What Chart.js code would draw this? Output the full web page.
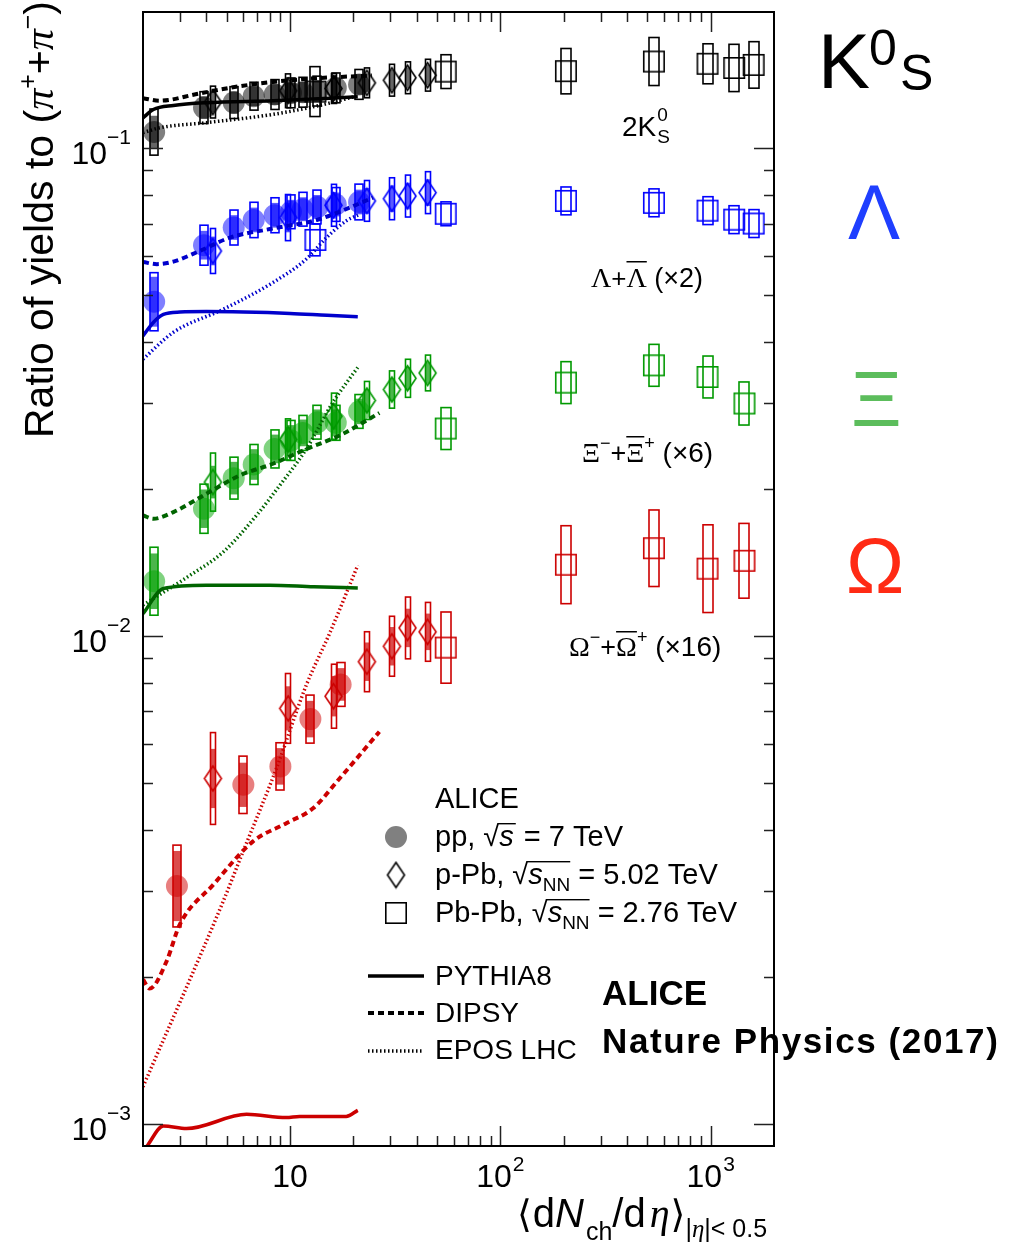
<!DOCTYPE html>
<html>
<head>
<meta charset="utf-8">
<script src="https://cdn.jsdelivr.net/npm/chart.js@4.4.1/dist/chart.umd.min.js"></script>
<style>
  html, body { margin: 0; padding: 0; background: #fff; }
  #wrap { width: 1024px; height: 1244px; position: relative; }
</style>
</head>
<body>
<div id="wrap"><canvas id="c" width="1024" height="1244"></canvas></div>
<script>
// === 1. DATA ===
// <dNch/deta> of the multiplicity / centrality classes
const xPP      = [2.26, 3.90, 5.40, 6.72, 8.45, 10.1, 11.5, 13.5, 16.5, 21.3];
const xPPOmega = [2.9, 6.0, 9.0, 12.5, 17.4];
const xPPb     = [4.3, 9.8, 16.1, 23.2, 30.5, 36.2, 45.1];
const xPbPb    = [13.2, 55, 205, 537, 966, 1294, 1601];
const xPbPbMS  = [55, 205, 537, 966, 1448];

// 2K0S / (pi+ + pi-)
const k0ppY     = [0.1078, 0.1210, 0.1239, 0.1277, 0.1287, 0.1297, 0.1301, 0.1308, 0.1328, 0.1350];
const k0ppSys   = [0.115, 0.078, 0.078, 0.068, 0.073, 0.073, 0.073, 0.073, 0.073, 0.073];
const k0ppUnc   = [0.080, 0.055, 0.055, 0.048, 0.050, 0.050, 0.050, 0.050, 0.050, 0.050];
const k0pPbY    = [0.1242, 0.1310, 0.1324, 0.1360, 0.1377, 0.1393, 0.1410];
const k0pPbSys  = [0.078, 0.083, 0.073, 0.073, 0.078, 0.078, 0.078];
const k0pPbUnc  = [0.050, 0.052, 0.046, 0.046, 0.050, 0.050, 0.050];
const k0PbPbY   = [0.1305, 0.1434, 0.1437, 0.1504, 0.1488, 0.1459, 0.1480];
const k0PbPbSys = [0.125, 0.083, 0.113, 0.120, 0.099, 0.118, 0.116];

// (Lambda + antiLambda) x2
const lamppY     = [0.0484, 0.0632, 0.0687, 0.0712, 0.0728, 0.0740, 0.0749, 0.0757, 0.0766, 0.0775];
const lamppSys   = [0.147, 0.099, 0.086, 0.087, 0.086, 0.083, 0.083, 0.083, 0.083, 0.088];
const lamppUnc   = [0.125, 0.070, 0.060, 0.060, 0.060, 0.058, 0.058, 0.058, 0.058, 0.060];
const lampPbY    = [0.0615, 0.0720, 0.0763, 0.0779, 0.0787, 0.0797, 0.0810];
const lampPbSys  = [0.112, 0.115, 0.104, 0.101, 0.104, 0.104, 0.104];
const lampPbUnc  = [0.070, 0.072, 0.065, 0.063, 0.065, 0.065, 0.065];
const lamPbPbY   = [0.0648, 0.0733, 0.0779, 0.0772, 0.0744, 0.0713, 0.0700];
const lamPbPbSys = [0.078, 0.058, 0.068, 0.068, 0.068, 0.068, 0.068];

// (Xi- + Xi+) x6
const xippY     = [0.01294, 0.01822, 0.02105, 0.02245, 0.02416, 0.02515, 0.02606, 0.02741, 0.02733, 0.02884];
const xippSys   = [0.174, 0.123, 0.104, 0.099, 0.094, 0.099, 0.086, 0.083, 0.086, 0.083];
const xippUnc   = [0.140, 0.095, 0.080, 0.075, 0.070, 0.075, 0.065, 0.062, 0.065, 0.062];
const xipPbY    = [0.02066, 0.02527, 0.02820, 0.03037, 0.03198, 0.03372, 0.03458];
const xipPbSys  = [0.147, 0.102, 0.115, 0.094, 0.092, 0.094, 0.088];
const xipPbUnc  = [0.080, 0.060, 0.065, 0.055, 0.055, 0.055, 0.052];
const xiPbPbY   = [0.02660, 0.03304, 0.03585, 0.03393, 0.02994];
const xiPbPbSys = [0.104, 0.104, 0.104, 0.104, 0.107];

// (Omega- + Omega+) x16
const omppY     = [0.00307, 0.00495, 0.00540, 0.00675, 0.00795];
const omppSys   = [0.213, 0.145, 0.118, 0.120, 0.109];
const omppUnc   = [0.180, 0.110, 0.090, 0.090, 0.080];
const ompPbY    = [0.00510, 0.00710, 0.00752, 0.00885, 0.00952, 0.01038, 0.01019];
const ompPbSys  = [0.242, 0.179, 0.163, 0.152, 0.152, 0.157, 0.149];
const ompPbUnc  = [0.150, 0.110, 0.100, 0.095, 0.095, 0.095, 0.090];
const omPbPbY   = [0.00946, 0.01399, 0.01512, 0.01373, 0.01425];
const omPbPbSys = [0.183, 0.202, 0.198, 0.230, 0.193];

// model curves: PYTHIA8, DIPSY, EPOS LHC
const pyK0X = [2.0, 2.24, 2.79, 4.0, 8.3, 21.0];
const pyK0Y = [0.1153, 0.1199, 0.1222, 0.1238, 0.1250, 0.1273];
const diK0X = [2.0, 2.4, 3.6, 5.2, 8.3, 13.4, 24.5];
const diK0Y = [0.1265, 0.1250, 0.1290, 0.1329, 0.1366, 0.1390, 0.1408];
const epK0X = [2.0, 2.4, 4.0, 8.3, 13.4, 20.7];
const epK0Y = [0.1075, 0.1100, 0.1127, 0.1172, 0.1219, 0.1277];

const pyLamX = [2.0, 2.25, 2.5, 3.0, 4.0, 6.0, 10, 15, 21];
const pyLamY = [0.0412, 0.0440, 0.0456, 0.0461, 0.0462, 0.0461, 0.0458, 0.0454, 0.0451];
const diLamX = [2.0, 2.33, 2.79, 3.72, 5.18, 8.3, 13.4, 17.2, 24.8];
const diLamY = [0.0584, 0.0578, 0.0585, 0.0615, 0.0655, 0.0684, 0.0712, 0.0740, 0.0791];
const epLamX = [2.0, 2.79, 4.81, 8.3, 11.96, 14.9, 18.5, 21.4];
const epLamY = [0.0369, 0.0419, 0.0467, 0.0530, 0.0592, 0.0655, 0.0709, 0.0731];

const pyXiX = [2.0, 2.5, 4.0, 8.0, 13, 21];
const pyXiY = [0.0111, 0.0125, 0.0127, 0.0127, 0.0126, 0.01254];
const diXiX = [2.0, 2.24, 2.79, 4.0, 5.77, 8.3, 12.0, 17.2, 26.6];
const diXiY = [0.01766, 0.01738, 0.01793, 0.01955, 0.02132, 0.02253, 0.02416, 0.02574, 0.02863];
const epXiX = [2.0, 3.34, 4.81, 6.93, 8.93, 11.96, 16.0, 21.0];
const epXiY = [0.01156, 0.0133, 0.01485, 0.01766, 0.02033, 0.02416, 0.03012, 0.0355];

const pyOmX = [2.08, 2.5, 3.22, 6.22, 9.6, 11.1, 18.5, 21.0];
const pyOmY = [0.000897, 0.000989, 0.000977, 0.001045, 0.001029, 0.001035, 0.001035, 0.001065];
const diOmX = [2.0, 2.15, 2.59, 2.99, 4.32, 6.67, 9.61, 12.86, 17.2, 26.6];
const diOmY = [0.001975, 0.001892, 0.002153, 0.002559, 0.00309, 0.00379, 0.00413, 0.00443, 0.0051, 0.00636];
const epOmX = [2.0, 4.81, 5.9, 8.62, 11.96, 15.4, 21.0];
const epOmY = [0.00119, 0.002855, 0.00356, 0.00535, 0.00793, 0.0101, 0.01395];

// axis ranges
const X_MIN = 2, X_MAX = 2000;
const Y_MIN = 0.0009, Y_MAX = 0.19;

// === 2. STYLE HELPERS ===
const SANS = '"Liberation Sans", Arial, Helvetica, sans-serif';
const SERIF = '"Liberation Serif", "Times New Roman", serif';
const font = (size, fam = SANS, style = '') => `${style} ${size}px ${fam}`.trim();

const pts = (xs, ys) => xs.map((x, i) => ({ x: x, y: ys[i] }));

// open marker shapes as canvases (used as Chart.js pointStyle)
const makeDiamond = (color) => {
    const c = document.createElement('canvas');
    c.width = 21; c.height = 29;
    const g = c.getContext('2d');
    g.strokeStyle = color; g.lineWidth = 1.6;
    g.beginPath();
    g.moveTo(10.5, 2); g.lineTo(19, 14.5); g.lineTo(10.5, 27); g.lineTo(2, 14.5);
    g.closePath(); g.stroke();
    return c;
};
const makeSquare = (color) => {
    const c = document.createElement('canvas');
    c.width = 24; c.height = 24;
    const g = c.getContext('2d');
    g.strokeStyle = color; g.lineWidth = 1.6;
    g.strokeRect(1.8, 1.8, 20.4, 20.4);
    return c;
};

const species = [
    { line: '#000000', dot: 'rgba(0,0,0,0.5)', box: '#000000', unc: 'rgba(0,0,0,0.6)',
      pp: [xPP, k0ppY, k0ppSys, k0ppUnc], pPb: [xPPb, k0pPbY, k0pPbSys, k0pPbUnc], PbPb: [xPbPb, k0PbPbY, k0PbPbSys],
      models: [[pyK0X, pyK0Y], [diK0X, diK0Y], [epK0X, epK0Y]] },
    { line: '#0000cc', dot: 'rgba(0,0,255,0.5)', box: '#0000ff', unc: 'rgba(0,0,255,0.65)',
      pp: [xPP, lamppY, lamppSys, lamppUnc], pPb: [xPPb, lampPbY, lampPbSys, lampPbUnc], PbPb: [xPbPb, lamPbPbY, lamPbPbSys],
      models: [[pyLamX, pyLamY], [diLamX, diLamY], [epLamX, epLamY]] },
    { line: '#006400', dot: 'rgba(0,165,0,0.5)', box: '#009900', unc: 'rgba(0,150,0,0.7)',
      pp: [xPP, xippY, xippSys, xippUnc], pPb: [xPPb, xipPbY, xipPbSys, xipPbUnc], PbPb: [xPbPbMS, xiPbPbY, xiPbPbSys],
      models: [[pyXiX, pyXiY], [diXiX, diXiY], [epXiX, epXiY]] },
    { line: '#cc0000', dot: 'rgba(210,0,0,0.5)', box: '#cc0000', unc: 'rgba(204,0,0,0.7)',
      pp: [xPPOmega, omppY, omppSys, omppUnc], pPb: [xPPb, ompPbY, ompPbSys, ompPbUnc], PbPb: [xPbPbMS, omPbPbY, omPbPbSys],
      models: [[pyOmX, pyOmY], [diOmX, diOmY], [epOmX, epOmY]] }
];

const modelStyles = [
    { borderWidth: 3.5, borderDash: [] },        // PYTHIA8
    { borderWidth: 4, borderDash: [6, 4] },      // DIPSY
    { borderWidth: 3.5, borderDash: [1.5, 2.5] } // EPOS LHC
];

// === 3. DATASETS ===
const datasets = [];
species.forEach(sp => {
    sp.models.forEach((m, k) => {
        datasets.push({
            data: pts(m[0], m[1]),
            showLine: true,
            borderColor: sp.line,
            borderWidth: modelStyles[k].borderWidth,
            borderDash: modelStyles[k].borderDash,
            borderCapStyle: 'butt',
            pointRadius: 0,
            cubicInterpolationMode: 'monotone',
            fill: false
        });
    });
});
species.forEach(sp => {
    datasets.push({
        data: pts(sp.PbPb[0], sp.PbPb[1]),
        showLine: false,
        pointStyle: makeSquare(sp.box),
        pointRadius: 11,
        sys: sp.PbPb[2], boxW: 10, boxColor: sp.box
    });
    datasets.push({
        data: pts(sp.pPb[0], sp.pPb[1]),
        showLine: false,
        pointStyle: makeDiamond(sp.box),
        pointRadius: 11,
        sys: sp.pPb[2], unc: sp.pPb[3], boxW: 5, boxColor: sp.box, uncColor: sp.unc
    });
    datasets.push({
        data: pts(sp.pp[0], sp.pp[1]),
        showLine: false,
        pointStyle: 'circle',
        pointRadius: 11,
        pointBackgroundColor: sp.dot,
        pointBorderWidth: 0,
        pointBorderColor: 'rgba(0,0,0,0)',
        sys: sp.pp[2], unc: sp.pp[3], boxW: 8, boxColor: sp.box, uncColor: sp.unc
    });
});

// === 4. PLUGINS ===
// systematic boxes (open = total, filled = uncorrelated)
const errorBoxes = {
    id: 'errorBoxes',
    beforeDatasetsDraw(chart) {
        const { ctx, chartArea: a } = chart;
        const xs = chart.scales.x, ys = chart.scales.y;
        ctx.save();
        ctx.beginPath();
        ctx.rect(a.left, a.top, a.right - a.left, a.bottom - a.top);
        ctx.clip();
        chart.data.datasets.forEach(ds => {
            if (!ds.sys) return;
            ds.data.forEach((d, j) => {
                const px = Math.round(xs.getPixelForValue(d.x));
                const w = ds.boxW;
                if (ds.unc) {
                    const t = ys.getPixelForValue(d.y * (1 + ds.unc[j]));
                    const b = ys.getPixelForValue(d.y / (1 + ds.unc[j]));
                    ctx.fillStyle = ds.uncColor;
                    ctx.fillRect(px - w / 2, t, w, b - t);
                }
                const t = ys.getPixelForValue(d.y * (1 + ds.sys[j]));
                const b = ys.getPixelForValue(d.y / (1 + ds.sys[j]));
                ctx.strokeStyle = ds.boxColor;
                ctx.lineWidth = 1.6;
                ctx.strokeRect(px - w / 2, t, w, b - t);
            });
        });
        ctx.restore();
    }
};

const drawRuns = (ctx, x, y, list) => {
    const pos = [];
    let cx = x;
    list.forEach(r => {
        ctx.font = r.f;
        const w = ctx.measureText(r.t).width;
        pos.push([cx, cx + w]);
        ctx.fillText(r.t, cx, y + (r.dy || 0));
        cx += w + (r.sp || 0);
    });
    return pos;
};

// frame, ROOT-style inward ticks, labels and legend
const decorations = {
    id: 'decorations',
    afterDraw(chart) {
        const { ctx, chartArea: a } = chart;
        const xs = chart.scales.x, ys = chart.scales.y;
        ctx.save();

        // ticks
        ctx.strokeStyle = '#222';
        ctx.lineWidth = 1.5;
        ctx.beginPath();
        for (let e = -4; e <= 0; e++) {
            for (let m = 1; m <= 9; m++) {
                const v = m * Math.pow(10, e);
                if (v <= Y_MIN * 1.0001 || v >= Y_MAX) continue;
                const py = Math.round(ys.getPixelForValue(v)) + 0.5;
                const len = m === 1 ? 20 : 10;
                ctx.moveTo(a.left, py); ctx.lineTo(a.left + len, py);
                ctx.moveTo(a.right, py); ctx.lineTo(a.right - len, py);
            }
        }
        for (let e = 0; e <= 3; e++) {
            for (let m = 1; m <= 9; m++) {
                const v = m * Math.pow(10, e);
                if (v <= X_MIN * 1.0001 || v >= X_MAX * 0.9999) continue;
                const px = Math.round(xs.getPixelForValue(v)) + 0.5;
                const len = m === 1 ? 20 : 10;
                ctx.moveTo(px, a.bottom); ctx.lineTo(px, a.bottom - len);
                ctx.moveTo(px, a.top); ctx.lineTo(px, a.top + len);
            }
        }
        ctx.stroke();

        // frame
        ctx.strokeStyle = '#000';
        ctx.lineWidth = 2;
        ctx.strokeRect(a.left, a.top, a.right - a.left, a.bottom - a.top);

        ctx.fillStyle = '#000';
        ctx.textBaseline = 'alphabetic';
        ctx.textAlign = 'left';

        // x tick labels
        [[10, ''], [100, '2'], [1000, '3']].forEach(([v, p]) => {
            const px = xs.getPixelForValue(v);
            ctx.font = font(32);
            const w1 = ctx.measureText('10').width;
            ctx.font = font(21);
            const w2 = p ? ctx.measureText(p).width + 1 : 0;
            const x0 = px - (w1 + w2) / 2;
            ctx.font = font(32);
            ctx.fillText('10', x0, 1187);
            if (p) { ctx.font = font(21); ctx.fillText(p, x0 + w1 + 1, 1171); }
        });

        // y tick labels
        [[0.1, '\u22121'], [0.01, '\u22122'], [0.001, '\u22123']].forEach(([v, p]) => {
            const py = ys.getPixelForValue(v);
            ctx.font = font(21);
            const w2 = ctx.measureText(p).width;
            ctx.font = font(32);
            const w1 = ctx.measureText('10').width;
            const x0 = 131 - w1 - w2;
            ctx.fillText('10', x0, py + 16);
            ctx.font = font(21);
            ctx.fillText(p, x0 + w1, py - 4);
        });

        // y axis title
        ctx.save();
        ctx.translate(53, 438);
        ctx.rotate(-Math.PI / 2);
        drawRuns(ctx, 0, 0, [
            { t: 'Ratio of yields to ', f: font(41) },
            { t: '(', f: font(41) },
            { t: '\u03c0', f: font(42, SERIF, 'italic') },
            { t: '+', f: font(25), dy: -17 },
            { t: '+', f: font(41) },
            { t: '\u03c0', f: font(42, SERIF, 'italic') },
            { t: '\u2212', f: font(25), dy: -17 },
            { t: ')', f: font(41) }
        ]);
        ctx.restore();

        // x axis title
        drawRuns(ctx, 517, 1227, [
            { t: '\u27e8', f: font(38, '"DejaVu Sans"'), sp: 1 },
            { t: 'd', f: font(40) },
            { t: 'N', f: font(40, SANS, 'italic'), sp: 2 },
            { t: 'ch', f: font(25), dy: 13 },
            { t: '/d', f: font(40), sp: 4 },
            { t: '\u03b7', f: font(40, SERIF, 'italic'), sp: 1 },
            { t: '\u27e9', f: font(38, '"DejaVu Sans"') },
            { t: '|', f: font(25), dy: 10 },
            { t: '\u03b7', f: font(25, SERIF, 'italic'), dy: 10 },
            { t: '|< 0.5', f: font(25), dy: 10 }
        ]);

        // big species labels on the right
        drawRuns(ctx, 818, 88, [{ t: 'K', f: font(78) }]);
        drawRuns(ctx, 869, 65, [{ t: '0', f: font(50) }]);
        drawRuns(ctx, 900, 90, [{ t: 'S', f: font(50) }]);
        ctx.fillStyle = '#1f3fff';
        drawRuns(ctx, 848, 239, [{ t: '\u039b', f: font(78) }]);
        ctx.fillStyle = '#5cbd5c';
        drawRuns(ctx, 851, 426, [{ t: '\u039e', f: font(78) }]);
        ctx.fillStyle = '#ff2a14';
        drawRuns(ctx, 846, 593, [{ t: '\u03a9', f: font(78) }]);
        ctx.fillStyle = '#000';

        // species annotations in the frame
        let p = drawRuns(ctx, 622, 136, [{ t: '2K', f: font(28) }]);
        drawRuns(ctx, p[0][1] + 1, 121, [{ t: '0', f: font(19) }]);
        drawRuns(ctx, p[0][1] + 1, 143, [{ t: 'S', f: font(19) }]);

        p = drawRuns(ctx, 591, 287, [
            { t: '\u039b', f: font(28, SERIF) },
            { t: '+', f: font(26) },
            { t: '\u039b', f: font(28, SERIF) },
            { t: ' (\u00d72)', f: font(27) }
        ]);
        ctx.fillRect(p[2][0], 261, p[2][1] - p[2][0], 1.5);

        p = drawRuns(ctx, 582, 462, [
            { t: '\u039e', f: font(28, SERIF) },
            { t: '\u2212', f: font(18), dy: -13 },
            { t: '+', f: font(27) },
            { t: '\u039e', f: font(28, SERIF) },
            { t: '+', f: font(18), dy: -13 },
            { t: ' (\u00d76)', f: font(28) }
        ]);
        ctx.fillRect(p[3][0], 436, p[3][1] - p[3][0], 1.5);

        p = drawRuns(ctx, 569, 656, [
            { t: '\u03a9', f: font(28, SERIF) },
            { t: '\u2212', f: font(18), dy: -13 },
            { t: '+', f: font(27) },
            { t: '\u03a9', f: font(28, SERIF) },
            { t: '+', f: font(18), dy: -13 },
            { t: ' (\u00d716)', f: font(28) }
        ]);
        ctx.fillRect(p[3][0], 631, p[3][1] - p[3][0], 1.5);

        // legend: data
        drawRuns(ctx, 435, 808, [{ t: 'ALICE', f: font(29) }]);
        ctx.fillStyle = '#808080';
        ctx.beginPath(); ctx.arc(396, 837, 11, 0, Math.PI * 2); ctx.fill();
        ctx.fillStyle = '#000';
        const dia = makeDiamond('#000'), sq = makeSquare('#000');
        ctx.drawImage(dia, 396 - dia.width / 2, 875 - dia.height / 2);
        ctx.drawImage(sq, 396 - sq.width / 2, 913 - sq.height / 2);

        p = drawRuns(ctx, 435, 846, [
            { t: 'pp, \u221a', f: font(29) },
            { t: 's', f: font(29, SANS, 'italic'), sp: 2 },
            { t: ' = 7 TeV', f: font(29) }
        ]);
        ctx.fillRect(p[0][1] - 1, 823, p[1][1] - p[0][1] + 3, 1.4);
        p = drawRuns(ctx, 435, 884, [
            { t: 'p-Pb, \u221a', f: font(29) },
            { t: 's', f: font(29, SANS, 'italic') },
            { t: 'NN', f: font(19), dy: 7 },
            { t: ' = 5.02 TeV', f: font(29) }
        ]);
        ctx.fillRect(p[0][1] - 1, 861, p[2][1] - p[0][1] + 1, 1.4);
        p = drawRuns(ctx, 435, 922, [
            { t: 'Pb-Pb, \u221a', f: font(29) },
            { t: 's', f: font(29, SANS, 'italic') },
            { t: 'NN', f: font(19), dy: 7 },
            { t: ' = 2.76 TeV', f: font(29) }
        ]);
        ctx.fillRect(p[0][1] - 1, 899, p[2][1] - p[0][1] + 1, 1.4);

        // legend: models
        ctx.strokeStyle = '#000';
        [[976, modelStyles[0]], [1013, modelStyles[1]], [1051, modelStyles[2]]].forEach(([y, st]) => {
            ctx.lineWidth = st.borderWidth;
            ctx.setLineDash(st.borderDash);
            ctx.lineCap = 'butt';
            ctx.beginPath(); ctx.moveTo(368, y); ctx.lineTo(424, y); ctx.stroke();
        });
        ctx.setLineDash([]);
        drawRuns(ctx, 435, 985, [{ t: 'PYTHIA8', f: font(28) }]);
        drawRuns(ctx, 435, 1022, [{ t: 'DIPSY', f: font(28) }]);
        drawRuns(ctx, 435, 1059, [{ t: 'EPOS LHC', f: font(28) }]);

        // publication tag
        drawRuns(ctx, 602, 1005, [{ t: 'ALICE', f: font(35, SANS, 'bold') }]);
        ctx.letterSpacing = '1.6px';
        drawRuns(ctx, 602, 1053, [{ t: 'Nature Physics (2017)', f: font(35, SANS, 'bold') }]);
        ctx.letterSpacing = '0px';

        ctx.restore();
    }
};

// === 5. CHART ===
new Chart(document.getElementById('c'), {
    type: 'line',
    data: { datasets: datasets },
    options: {
        responsive: false,
        animation: false,
        devicePixelRatio: 1,
        layout: { padding: { left: 143, right: 250, top: 9, bottom: 98 } },
        plugins: { legend: { display: false }, tooltip: { enabled: false }, title: { display: false } },
        scales: {
            x: { type: 'logarithmic', min: X_MIN, max: X_MAX, display: false },
            y: { type: 'logarithmic', min: Y_MIN, max: Y_MAX, display: false }
        }
    },
    plugins: [errorBoxes, decorations]
});
</script>
</body>
</html>
